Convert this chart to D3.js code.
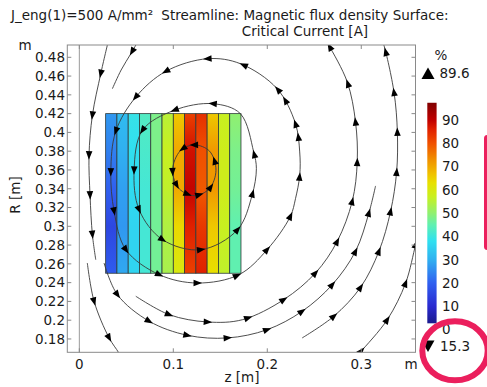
<!DOCTYPE html>
<html>
<head>
<meta charset="utf-8">
<script src="https://cdn.jsdelivr.net/npm/d3@7"></script>
<style>
  body { margin: 0; background: #fff; }
  svg { display: block; font-family: "DejaVu Sans", sans-serif; }
  text { fill: #1a1a1a; font-size: 13.5px; }
</style>
</head>
<body>
<svg width="487" height="387"></svg>
<script>
// axis ticks
const zTicks = [0, 0.1, 0.2, 0.3];
const rTicks = [0.18, 0.2, 0.22, 0.24, 0.26, 0.28, 0.3, 0.32, 0.34, 0.36, 0.38, 0.4, 0.42, 0.44, 0.46, 0.48];
const barTicks = [0, 10, 20, 30, 40, 50, 60, 70, 80, 90];

// coil cross-section: 12 tapes, critical current [%] sampled at a few radii
const tapeEdges = [0.028, 0.04, 0.052, 0.064, 0.076, 0.088, 0.1, 0.112, 0.124, 0.136, 0.148, 0.16, 0.172];
const sampleR = [0.42, 0.38, 0.34, 0.30, 0.25];
const tapeValues = [
  [27, 24, 20, 15.3, 19],
  [32, 30, 28, 27, 29],
  [39, 38, 37, 36, 36],
  [43, 42, 41, 41, 41],
  [48, 48, 47, 47, 47],
  [55, 57, 56, 54, 53],
  [66, 70, 70, 64, 60],
  [82, 88, 89.6, 86, 82],
  [84, 80, 79, 83, 86],
  [66, 72, 72, 66, 63],
  [57, 58, 58, 57, 56],
  [50, 48, 47, 45, 45]
];
const maxValue = 89.6;
const minValue = 15.3;

// rainbow colour table
const rainbowValues = [2.7, 10, 20, 30, 38, 45, 50, 57, 63, 67, 73, 80, 86, 90, 97.4];
const rainbowColors = ['#1a1a8c', '#2a2ad0', '#3060f0', '#30b0f0', '#30e0f0', '#60f0b0', '#90f070', '#c8f020',
  '#e8e000', '#f0c000', '#f09000', '#f05000', '#e02000', '#c00000', '#800000'];

// streamlines of the magnetic flux density, [z, R] in metres
const loopInner = [[0.1223, 0.3867], [0.1075, 0.3805], [0.0992, 0.3597], [0.1063, 0.3400], [0.1223, 0.3327],
  [0.1383, 0.3400], [0.1454, 0.3597], [0.1386, 0.3800]];
const loopInnerArrows = [[0.1223, 0.387], [0.1098, 0.3834], [0.0991, 0.358], [0.1063, 0.3454], [0.1151, 0.3347],
  [0.1276, 0.3337], [0.1383, 0.343], [0.1454, 0.3703]];

const loopMiddle = [[0.1418, 0.4306], [0.101, 0.4236], [0.0672, 0.4023], [0.0583, 0.3597], [0.0636, 0.3177],
  [0.0885, 0.2858], [0.1294, 0.2751], [0.1684, 0.2964], [0.1838, 0.333], [0.1884, 0.3614], [0.1855, 0.3792],
  [0.1713, 0.42]];
const loopMiddleArrows = [[0.1418, 0.4306], [0.1002, 0.4274], [0.0672, 0.4023], [0.0583, 0.3597], [0.0636, 0.3177],
  [0.0885, 0.2858], [0.1294, 0.2751], [0.1684, 0.2964], [0.1849, 0.3347], [0.1873, 0.3773]];

const loopOuter = [[0.1365, 0.4785], [0.0921, 0.4651], [0.0601, 0.4377], [0.0388, 0.4012], [0.0335, 0.3578],
  [0.037, 0.316], [0.0495, 0.2751], [0.085, 0.2485], [0.1258, 0.2396], [0.1699, 0.2485], [0.1998, 0.2751],
  [0.2246, 0.3107], [0.23, 0.3294], [0.2345, 0.3543], [0.2345, 0.3792], [0.23, 0.4093], [0.2104, 0.4466],
  [0.1713, 0.4732]];
const loopOuterArrows = [[0.1365, 0.4785], [0.0921, 0.4651], [0.0601, 0.4377], [0.0388, 0.4012], [0.0352, 0.3578],
  [0.037, 0.316], [0.0495, 0.2751], [0.085, 0.2485], [0.1258, 0.2396], [0.1684, 0.2468], [0.1998, 0.2751],
  [0.2246, 0.3107], [0.2345, 0.3525], [0.2335, 0.3951], [0.23, 0.4093], [0.2193, 0.4342], [0.2104, 0.4449],
  [0.1748, 0.4721]];

const lineBottomInner = [[0.0601, 0.2255], [0.0956, 0.2059], [0.1365, 0.1981], [0.1738, 0.2006], [0.2175, 0.2219],
  [0.2513, 0.2503], [0.2744, 0.284], [0.2904, 0.3267], [0.2957, 0.3685], [0.2939, 0.4111], [0.2851, 0.4537],
  [0.2655, 0.4928], [0.263, 0.497]];
const lineBottomInnerArrows = [[0.0956, 0.2059], [0.1365, 0.1981], [0.1785, 0.2052], [0.2175, 0.2219],
  [0.2513, 0.2503], [0.2744, 0.284], [0.2904, 0.3267], [0.2957, 0.3685], [0.2939, 0.4111], [0.2851, 0.4519],
  [0.2665, 0.491]];

const lineBottomOuter = [[0.0263, 0.2609], [0.0405, 0.2272], [0.0743, 0.1989], [0.1151, 0.1839], [0.1578, 0.1811],
  [0.1998, 0.1899], [0.2371, 0.2095], [0.2691, 0.2378], [0.2939, 0.2734], [0.3081, 0.3142], [0.3152, 0.343]];
const lineBottomOuterArrows = [[0.0405, 0.2272], [0.0743, 0.1989], [0.1151, 0.1839], [0.1578, 0.1811],
  [0.1998, 0.1899], [0.2371, 0.2095], [0.2691, 0.2378], [0.2939, 0.2734], [0.3081, 0.3142]];

const lineRight = [[0.2371, 0.1811], [0.2708, 0.2042], [0.2993, 0.2351], [0.3188, 0.2734], [0.3312, 0.316],
  [0.3376, 0.3578], [0.3384, 0.4004], [0.3348, 0.443], [0.3241, 0.4928], [0.322, 0.498]];
const lineRightArrows = [[0.2708, 0.2042], [0.2993, 0.2351], [0.3188, 0.2734], [0.3312, 0.316], [0.3376, 0.3578],
  [0.3384, 0.4004], [0.3348, 0.443], [0.3259, 0.4856]];

const lineCorner = [[0.2957, 0.1619], [0.2993, 0.1662], [0.3277, 0.2006], [0.3472, 0.2396], [0.3579, 0.2804],
  [0.3611, 0.2907]];
const lineCornerArrows = [[0.2993, 0.1676], [0.3277, 0.2006], [0.3472, 0.2396], [0.3579, 0.2804]];

const lineAxisTop = [[0.0306, 0.4963], [0.0228, 0.4625], [0.0139, 0.4182], [0.0103, 0.3756], [0.0114, 0.333],
  [0.0139, 0.2911], [0.0175, 0.2644]];
const lineAxisTopArrows = [[0.0228, 0.4625], [0.0139, 0.4182], [0.0103, 0.3756], [0.0114, 0.333], [0.0122, 0.2911]];

const lineAxisBottom = [[0.0085, 0.2609], [0.0157, 0.2201], [0.0317, 0.1811], [0.0416, 0.1658], [0.0434, 0.1619]];
const lineAxisBottomArrows = [[0.0157, 0.2201], [0.0317, 0.1811]];

const lineShort = [[0.062, 0.4963], [0.0548, 0.4838], [0.0445, 0.4665], [0.0352, 0.4466]];
const lineShortArrows = [[0.0559, 0.486]];

const svg = d3.select('svg');

const x = d3.scaleLinear().domain([-0.0128, 0.3577]).range([67.3, 415.5]);
const y = d3.scaleLinear().domain([0.1658, 0.4931]).range([352.3, 45]);
const color = d3.scaleLinear().domain(rainbowValues).range(rainbowColors);
const cb = d3.scaleLinear().domain([0, 90]).range([329.6, 120]);

const [x0, x1] = x.range();
const [y1, y0] = y.range();

const defs = svg.append('defs');
defs.append('clipPath').attr('id', 'plotClip')
  .append('rect').attr('x', x0).attr('y', y0).attr('width', x1 - x0).attr('height', y1 - y0);

// symmetry axis
svg.append('line')
  .attr('x1', x(0)).attr('x2', x(0))
  .attr('y1', y0).attr('y2', y1)
  .attr('stroke', '#9a9a9a')
  .attr('stroke-width', 1);

// tapes, each shaded with a vertical gradient
const tapes = tapeValues.map((vals, i) => ({ i, vals, z0: tapeEdges[i], z1: tapeEdges[i + 1] }));
const rTop = sampleR[0], rBot = sampleR[sampleR.length - 1];

tapes.forEach(t => {
  const grad = defs.append('linearGradient')
    .attr('id', 'tape' + t.i)
    .attr('gradientUnits', 'userSpaceOnUse')
    .attr('x1', 0).attr('x2', 0)
    .attr('y1', y(rTop)).attr('y2', y(rBot));
  grad.selectAll('stop')
    .data(t.vals)
    .enter()
    .append('stop')
    .attr('offset', (v, k) => (y(sampleR[k]) - y(rTop)) / (y(rBot) - y(rTop)))
    .attr('stop-color', v => color(v));
});

svg.append('g')
  .selectAll('rect')
  .data(tapes)
  .enter()
  .append('rect')
  .attr('x', t => x(t.z0))
  .attr('y', y(rTop))
  .attr('width', t => x(t.z1) - x(t.z0))
  .attr('height', y(rBot) - y(rTop))
  .attr('fill', t => `url(#tape${t.i})`)
  .attr('stroke', '#2e3a3a')
  .attr('stroke-width', 0.8);

// streamlines
const streams = [
  { pts: loopInner, arrows: loopInnerArrows, closed: true },
  { pts: loopMiddle, arrows: loopMiddleArrows, closed: true },
  { pts: loopOuter, arrows: loopOuterArrows, closed: true },
  { pts: lineBottomInner, arrows: lineBottomInnerArrows },
  { pts: lineBottomOuter, arrows: lineBottomOuterArrows },
  { pts: lineRight, arrows: lineRightArrows },
  { pts: lineCorner, arrows: lineCornerArrows },
  { pts: lineAxisTop, arrows: lineAxisTopArrows },
  { pts: lineAxisBottom, arrows: lineAxisBottomArrows },
  { pts: lineShort, arrows: lineShortArrows }
];

const openLine = d3.line().x(d => x(d[0])).y(d => y(d[1])).curve(d3.curveCatmullRom);
const closedLine = d3.line().x(d => x(d[0])).y(d => y(d[1])).curve(d3.curveCatmullRomClosed);

const streamG = svg.append('g').attr('clip-path', 'url(#plotClip)');

streams.forEach(s => {
  const path = streamG.append('path')
    .attr('d', (s.closed ? closedLine : openLine)(s.pts))
    .attr('fill', 'none')
    .attr('stroke', '#3a3a3a')
    .attr('stroke-width', 0.9);

  const node = path.node();
  const total = node.getTotalLength();
  const samples = d3.range(0, total, 0.5).map(l => {
    const p = node.getPointAtLength(l);
    return [l, p.x, p.y];
  });

  // arrowheads follow the local direction of the line
  s.arrows.forEach(a => {
    const ax = x(a[0]), ay = y(a[1]);
    const best = d3.least(samples, p => (p[1] - ax) ** 2 + (p[2] - ay) ** 2);
    const p0 = node.getPointAtLength(Math.max(0, best[0] - 2));
    const p1 = node.getPointAtLength(Math.min(total, best[0] + 2));
    const ang = Math.atan2(p1.y - p0.y, p1.x - p0.x) * 180 / Math.PI;
    streamG.append('path')
      .attr('d', 'M4.5,0L-4,-3.3L-4,3.3Z')
      .attr('transform', `translate(${best[1]},${best[2]}) rotate(${ang})`)
      .attr('fill', '#000');
  });
});

// frame with inward ticks on all four sides
const frame = svg.append('g').attr('stroke', '#8a8a8a').attr('stroke-width', 1);
frame.append('rect')
  .attr('x', x0).attr('y', y0)
  .attr('width', x1 - x0).attr('height', y1 - y0)
  .attr('fill', 'none');

frame.selectAll('.zt')
  .data(zTicks)
  .enter()
  .append('path')
  .attr('d', d => `M${x(d)},${y1}v-4M${x(d)},${y0}v4`);

frame.selectAll('.rt')
  .data(rTicks)
  .enter()
  .append('path')
  .attr('d', d => `M${x0},${y(d)}h4M${x1},${y(d)}h-4`);

// tick labels
svg.append('g')
  .selectAll('text')
  .data(rTicks)
  .enter()
  .append('text')
  .attr('x', 65)
  .attr('y', d => y(d))
  .attr('dy', '0.36em')
  .attr('text-anchor', 'end')
  .text(d => String(+d.toFixed(2)));

svg.append('g')
  .selectAll('text')
  .data(zTicks)
  .enter()
  .append('text')
  .attr('x', d => x(d))
  .attr('y', 368.5)
  .attr('text-anchor', 'middle')
  .text(d => String(d));

svg.append('text').attr('x', 411).attr('y', 368.5).attr('text-anchor', 'middle').text('m');
svg.append('text').attr('x', 25).attr('y', 49.5).attr('text-anchor', 'middle').text('m');

svg.append('text')
  .attr('x', 242)
  .attr('y', 381.5)
  .attr('text-anchor', 'middle')
  .text('z [m]');

svg.append('text')
  .attr('transform', 'translate(20,195) rotate(-90)')
  .attr('text-anchor', 'middle')
  .text('R [m]');

// titles
svg.append('text').attr('x', 11).attr('y', 19.5).text('J_eng(1)=500 A/mm²');
svg.append('text').attr('x', 305).attr('y', 19.5).attr('text-anchor', 'middle')
  .text('Streamline: Magnetic flux density Surface:');
svg.append('text').attr('x', 305).attr('y', 36).attr('text-anchor', 'middle')
  .text('Critical Current [A]');

// colour legend, stops listed from the top of the bar down
const vTop = rainbowValues[rainbowValues.length - 1], vBot = rainbowValues[0];
const cbGrad = defs.append('linearGradient')
  .attr('id', 'cbGrad')
  .attr('gradientUnits', 'userSpaceOnUse')
  .attr('x1', 0).attr('x2', 0)
  .attr('y1', cb(vTop))
  .attr('y2', cb(vBot));

cbGrad.selectAll('stop')
  .data(rainbowValues.slice().reverse())
  .enter()
  .append('stop')
  .attr('offset', v => (vTop - v) / (vTop - vBot))
  .attr('stop-color', v => color(v));

svg.append('rect')
  .attr('x', 427.3)
  .attr('y', cb(vTop))
  .attr('width', 9.3)
  .attr('height', cb(vBot) - cb(vTop))
  .attr('fill', 'url(#cbGrad)');

svg.append('g')
  .selectAll('text')
  .data(barTicks)
  .enter()
  .append('text')
  .attr('x', 442)
  .attr('y', d => cb(d))
  .attr('dy', '0.36em')
  .text(d => d);

svg.append('text').attr('x', 441).attr('y', 60).attr('text-anchor', 'middle').text('%');

svg.append('path')
  .attr('d', 'M428,67.5L434.5,79L421.5,79Z')
  .attr('fill', '#000');
svg.append('text').attr('x', 439.5).attr('y', 73.3).attr('dy', '0.36em').text(maxValue);

svg.append('path')
  .attr('d', 'M421.5,340.5L434.5,340.5L428,352Z')
  .attr('fill', '#000');
svg.append('text').attr('x', 440).attr('y', 346).attr('dy', '0.36em').text(minValue);

// highlight marks
svg.append('ellipse')
  .attr('cx', 455).attr('cy', 350.8)
  .attr('rx', 32.7).attr('ry', 29.5)
  .attr('fill', 'none')
  .attr('stroke', '#eb1f5d')
  .attr('stroke-width', 6);

svg.append('line')
  .attr('x1', 487.5).attr('x2', 487.5)
  .attr('y1', 138.5).attr('y2', 246.5)
  .attr('stroke', '#eb1f5d')
  .attr('stroke-width', 7)
  .attr('stroke-linecap', 'round');
</script>
</body>
</html>
